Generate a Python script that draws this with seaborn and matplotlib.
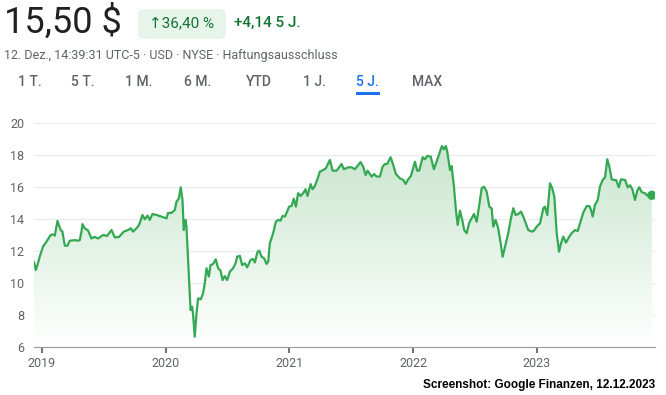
import matplotlib
matplotlib.use('Agg')
import matplotlib.pyplot as plt
from matplotlib.patches import FancyBboxPatch, Polygon
import numpy as np
import pandas as pd
import seaborn as sns

sns.set_style("white")
plt.rcParams['font.family'] = ['Roboto', 'DejaVu Sans']

# price series (x = decimal year)
years = [
    2018.935, 2018.949, 2018.963, 2018.981, 2019.008, 2019.036, 2019.068, 2019.084, 2019.103, 2019.125,
    2019.138, 2019.151, 2019.165, 2019.184, 2019.206, 2019.224, 2019.265, 2019.291, 2019.305, 2019.319,
    2019.327, 2019.345, 2019.372, 2019.400, 2019.426, 2019.453, 2019.494, 2019.526, 2019.562, 2019.588,
    2019.623, 2019.661, 2019.696, 2019.718, 2019.736, 2019.764, 2019.785, 2019.812, 2019.831, 2019.853,
    2019.871, 2019.893, 2019.926, 2019.979, 2020.007, 2020.019, 2020.047, 2020.074, 2020.087, 2020.106,
    2020.122, 2020.136, 2020.146, 2020.160, 2020.168, 2020.181, 2020.201, 2020.214, 2020.222, 2020.235,
    2020.249, 2020.262, 2020.284, 2020.303, 2020.316, 2020.330, 2020.349, 2020.363, 2020.384, 2020.405,
    2020.424, 2020.443, 2020.460, 2020.478, 2020.497, 2020.519, 2020.545, 2020.565, 2020.578, 2020.600,
    2020.618, 2020.640, 2020.659, 2020.686, 2020.707, 2020.721, 2020.743, 2020.756, 2020.775, 2020.796,
    2020.816, 2020.829, 2020.842, 2020.869, 2020.891, 2020.909, 2020.929, 2020.945, 2020.964, 2020.982,
    2020.998, 2021.018, 2021.036, 2021.053, 2021.071, 2021.091, 2021.112, 2021.131, 2021.147, 2021.172,
    2021.188, 2021.206, 2021.225, 2021.247, 2021.274, 2021.295, 2021.328, 2021.350, 2021.382, 2021.422,
    2021.441, 2021.476, 2021.503, 2021.530, 2021.576, 2021.597, 2021.617, 2021.633, 2021.665, 2021.686,
    2021.706, 2021.732, 2021.754, 2021.773, 2021.791, 2021.819, 2021.840, 2021.862, 2021.894, 2021.921,
    2021.940, 2021.961, 2021.983, 2022.016, 2022.034, 2022.050, 2022.078, 2022.096, 2022.115, 2022.143,
    2022.169, 2022.191, 2022.218, 2022.234, 2022.250, 2022.266, 2022.277, 2022.299, 2022.312, 2022.331,
    2022.347, 2022.361, 2022.380, 2022.398, 2022.414, 2022.434, 2022.455, 2022.474, 2022.493, 2022.515,
    2022.536, 2022.555, 2022.574, 2022.596, 2022.617, 2022.636, 2022.649, 2022.668, 2022.689, 2022.709,
    2022.725, 2022.744, 2022.770, 2022.792, 2022.811, 2022.830, 2022.851, 2022.873, 2022.892, 2022.932,
    2022.960, 2022.978, 2023.000, 2023.027, 2023.054, 2023.067, 2023.086, 2023.108, 2023.126, 2023.143,
    2023.162, 2023.181, 2023.197, 2023.215, 2023.237, 2023.264, 2023.283, 2023.310, 2023.332, 2023.351,
    2023.377, 2023.405, 2023.426, 2023.440, 2023.453, 2023.472, 2023.494, 2023.512, 2023.534, 2023.553,
    2023.571, 2023.588, 2023.607, 2023.626, 2023.642, 2023.664, 2023.682, 2023.715, 2023.736, 2023.755,
    2023.774, 2023.795, 2023.814, 2023.830, 2023.850, 2023.876, 2023.890, 2023.931,
]
prices = [
    11.35, 10.83, 11.14, 11.66, 12.29, 12.60, 13.00, 13.06, 12.98, 13.90,
    13.60, 13.33, 13.23, 12.35, 12.35, 12.66, 12.70, 12.66, 12.70, 13.23,
    13.70, 13.44, 13.30, 12.80, 12.90, 12.80, 13.02, 12.96, 13.33, 12.87,
    12.90, 13.23, 13.33, 13.44, 13.23, 13.44, 13.65, 14.27, 14.00, 14.23,
    13.96, 14.33, 14.27, 14.13, 14.06, 14.40, 14.40, 14.58, 15.10, 15.30,
    16.00, 15.20, 13.33, 13.96, 13.54, 11.46, 8.33, 8.54, 8.00, 6.66,
    8.10, 9.06, 9.00, 9.40, 10.00, 10.94, 10.42, 11.14, 11.21, 11.50,
    10.94, 10.80, 10.20, 10.45, 10.20, 10.73, 10.94, 11.25, 11.67, 11.71,
    11.14, 11.25, 11.00, 11.46, 11.52, 11.30, 11.98, 12.04, 11.67, 11.56,
    11.21, 11.35, 12.50, 13.13, 13.85, 13.96, 13.92, 14.21, 14.17, 14.48,
    14.79, 14.83, 15.29, 14.79, 15.63, 15.46, 15.63, 15.88, 15.46, 16.20,
    15.88, 16.08, 16.46, 16.98, 17.08, 17.19, 17.71, 17.04, 17.04, 17.46,
    17.13, 17.25, 17.25, 17.13, 17.58, 17.29, 16.77, 17.04, 16.67, 16.83,
    16.67, 16.67, 17.29, 17.46, 17.46, 17.88, 17.40, 16.83, 16.56, 16.46,
    16.21, 16.50, 16.71, 17.60, 17.04, 17.04, 17.88, 17.75, 17.96, 17.92,
    17.13, 17.60, 18.23, 18.58, 18.38, 18.58, 18.23, 17.08, 17.33, 16.04,
    14.58, 13.65, 14.54, 13.96, 13.33, 13.13, 13.79, 14.06, 14.33, 13.85,
    14.90, 15.94, 16.04, 15.73, 14.79, 14.69, 13.54, 13.96, 13.44, 12.50,
    11.66, 12.29, 13.13, 14.06, 14.69, 14.27, 14.33, 14.48, 14.17, 13.33,
    13.23, 13.29, 13.54, 13.75, 14.69, 14.79, 14.27, 16.25, 15.94, 15.40,
    13.13, 11.98, 12.50, 12.92, 12.54, 12.92, 13.13, 13.33, 13.27, 13.75,
    14.42, 14.83, 14.83, 14.58, 14.17, 14.90, 15.21, 16.04, 16.46, 16.63,
    17.75, 17.29, 16.50, 16.46, 16.46, 16.00, 16.50, 16.46, 16.00, 16.13,
    15.88, 15.21, 15.79, 16.00, 15.69, 15.63, 15.50, 15.50,
]

year_ticks = [2019, 2020, 2021, 2022, 2023]
price_ticks = [6, 8, 10, 12, 14, 16, 18, 20]
tabs = ["1 T.", "5 T.", "1 M.", "6 M.", "YTD", "1 J.", "5 J.", "MAX"]
tab_x = [30, 83, 139, 198, 259, 314, 367, 427]

GREEN = '#34a853'
DARK_GREEN = '#137333'
GREY = '#5f6368'

W, H = 666, 395
fig = plt.figure(figsize=(W / 100, H / 100), dpi=100)


def fx(px):
    return px / W


def fy(py):
    return 1 - py / H


# header
fig.text(fx(4), fy(23), "15,50 $", fontsize=26, color='#202124', va='center', ha='left')
badge = FancyBboxPatch((fx(138), fy(39)), fx(88), 30 / H, boxstyle="round,pad=0,rounding_size=0.012",
                       transform=fig.transFigure, facecolor='#e6f4ea', edgecolor='none')
fig.patches.append(badge)
fig.text(fx(182), fy(23), "\u219136,40 %", fontsize=11, color=DARK_GREEN, ha='center', va='center')
fig.text(fx(234), fy(23), "+4,14 5 J.", fontsize=11, color=DARK_GREEN, ha='left', va='center', fontweight='medium')
fig.text(fx(4), fy(55), "12. Dez., 14:39:31 UTC-5 \u00b7 USD \u00b7 NYSE \u00b7 Haftungsausschluss",
         fontsize=9, color=GREY, ha='left', va='center')
for lbl, x in zip(tabs, tab_x):
    col = '#1a73e8' if lbl == "5 J." else GREY
    fig.text(fx(x), fy(82), lbl, fontsize=10, color=col, ha='center', va='center', fontweight='medium')
fig.patches.append(plt.Rectangle((fx(356), fy(95)), fx(24), 3 / H, transform=fig.transFigure,
                                 facecolor='#1a73e8', edgecolor='none'))

# chart area
ax = fig.add_axes([fx(34), fy(347.3), fx(655 - 34), (347.3 - 123.3) / H])
df = pd.DataFrame({"year": years, "price": prices})

ymin, ymax = 6, 20
xmin, xmax = 2018.935, 2023.957

# gradient fill under the line
grad = np.linspace(0, 1, 256).reshape(-1, 1)
cmap = matplotlib.colors.LinearSegmentedColormap.from_list("g", ['#ffffff', '#c8e6ce'])
im = ax.imshow(grad, extent=[xmin, xmax, ymin, max(prices)], origin='lower', aspect='auto',
               cmap=cmap, zorder=1)
poly = Polygon(np.column_stack([[years[0]] + years + [years[-1]], [ymin] + prices + [ymin]]),
               closed=True, transform=ax.transData, facecolor='none', edgecolor='none')
ax.add_patch(poly)
im.set_clip_path(poly)

sns.lineplot(data=df, x="year", y="price", ax=ax, color=GREEN, linewidth=1.6, zorder=3)
ax.scatter([years[-1]], [prices[-1]], s=45, color=GREEN, zorder=4, edgecolors='none')

ax.set_xlim(xmin, xmax)
ax.set_ylim(ymin, ymax)
ax.set_yticks(price_ticks)
ax.set_xticks(year_ticks)
ax.set_xticklabels([str(y) for y in year_ticks])
ax.set_xlabel("")
ax.set_ylabel("")
for yv in price_ticks[1:]:
    ax.axhline(yv, color='#e8eaed', linewidth=0.8, zorder=0)
for s in ['top', 'right', 'left']:
    ax.spines[s].set_visible(False)
ax.spines['bottom'].set_color('#9aa0a6')
ax.spines['bottom'].set_linewidth(0.9)
ax.tick_params(axis='x', length=4, width=1.5, color='#70757a', labelsize=9, labelcolor=GREY, pad=3,
               bottom=True, direction='out')
ax.tick_params(axis='y', length=0, labelsize=9, labelcolor=GREY, pad=7)
ax.set_clip_on(False)

fig.text(fx(655), fy(385), "Screenshot: Google Finanzen, 12.12.2023", fontsize=8.5, fontweight='bold',
         family='Liberation Sans', color='black', ha='right', va='center')

fig.savefig("out.png", dpi=100)
